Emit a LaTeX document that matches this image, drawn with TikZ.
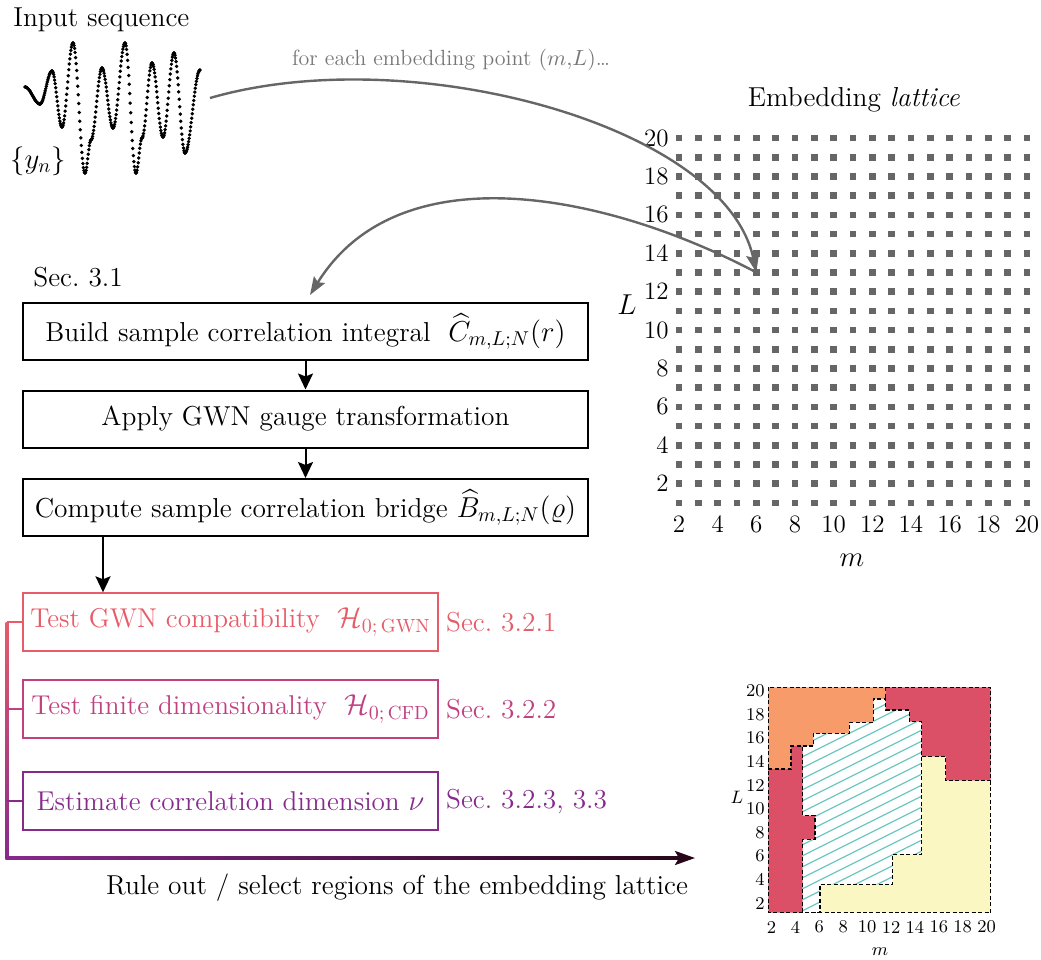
\documentclass[tikz,border=0pt]{standalone}
\usepackage{fontspec}
\usepackage{amsmath}
\usetikzlibrary{arrows.meta,calc}

\definecolor{seqgray}{RGB}{102,102,102}
\definecolor{notegray}{RGB}{118,118,118}
\definecolor{testA}{RGB}{230,92,104}
\definecolor{testB}{RGB}{192,64,128}
\definecolor{testC}{RGB}{134,42,140}
\definecolor{raildark}{RGB}{40,6,26}
\definecolor{regOrange}{RGB}{248,155,106}
\definecolor{regRed}{RGB}{219,80,103}
\definecolor{regYellow}{RGB}{250,247,194}
\definecolor{regHatch}{RGB}{108,200,192}

\tikzset{
  txt/.style={font=\fontsize{13.7}{16.4}\selectfont, inner sep=0pt},
  notetxt/.style={font=\fontsize{11}{13.2}\selectfont, text=notegray, inner sep=0pt},
  stepbox/.style={draw=black, line width=1pt, minimum width=282.5pt,
    minimum height=28.5pt, inner sep=0pt, font=\fontsize{13.7}{16.4}\selectfont},
  testbox/.style={draw=#1, text=#1, line width=0.7pt, minimum width=207.5pt,
    minimum height=29pt, inner sep=0pt, font=\fontsize{13.6}{16.3}\selectfont},
  flowarrow/.style={-{Stealth[length=8pt,width=7.5pt,inset=1.5pt]}, line width=1pt},
  feedback/.style={-{Stealth[length=9pt,width=6.5pt,inset=1.5pt]}, line width=1.2pt, draw=seqgray},
  latdot/.style={fill=seqgray},
  ticklab/.style={font=\fontsize{12.5}{15}\selectfont, inner sep=0pt},
  mini/.style={font=\fontsize{9}{10.8}\selectfont, inner sep=0pt},
  border/.style={line width=0.7pt, dash pattern=on 2pt off 1.2pt},
  sample/.style={fill=black},
}

\begin{document}
\begin{tikzpicture}[x=0.5pt,y=-0.5pt]
\useasboundingbox (0,0) rectangle (1041,960);

% ---------- input sequence ----------
\node[txt, anchor=west] (seqtitle) at (13,20) {Input sequence};
\node[txt] (seqlabel) at (38,161) {$\{y_n\}$};
% sampled signal: cosine pieces between successive extrema, uniform step in time
\foreach \x/\y [remember=\x as \px (initially 25), remember=\y as \py (initially 87)] in
  {40/104, 52/71, 62/127, 73/43, 85/173, 91/140, 102/68, 113/128, 125/43,
   136/173, 142/138, 152/63, 163/137, 174/53, 185/153, 200/70}
{
  \pgfmathtruncatemacro\ns{max(3,(\x-\px)/0.5)}
  \fill[sample] plot[only marks, mark=*, mark size=0.65pt, samples=\ns, domain=0:1, variable=\t]
    ({\px+\t*(\x-\px)},{\py+(\y-\py)*(1-cos(180*\t))/2});
}
\coordinate (seqend) at (210,98);

\node[notetxt] (note) at (451,60) {for each embedding point $(m{,}L)$\ldots};

% ---------- embedding lattice ----------
\node[txt] (lattitle) at (854,100) {Embedding \textit{lattice}};
\foreach \m in {2,...,20}
  \foreach \L in {1,...,20}
    \fill[latdot] ({679+(\m-2)*19.33-3.3},{138+(20-\L)*19.2-3.3}) rectangle ++(6.6,6.6);
\foreach \L in {2,4,...,20}
  \node[ticklab, anchor=east] (Ltick\L) at (669,{138+(20-\L)*19.2}) {\L};
\foreach \m in {2,4,...,20}
  \node[ticklab] (mtick\m) at ({679+(\m-2)*19.33},524) {\m};
\node[txt] (Llab) at (627,305) {$L$};
\node[txt] (mlab) at (852,560) {$m$};
\coordinate (probe) at ({679+4*19.33},{138+7*19.2});

% ---------- pipeline ----------
\node[txt, anchor=west] (sec31) at (33,277) {Sec.~3.1};
\node[stepbox] (build) at (305.5,331.5) {Build sample correlation integral~ $\widehat{C}_{m,L;N}(r)$};
\node[stepbox] (gauge) at (305.5,419) {Apply GWN gauge transformation};
\node[stepbox] (bridge) at (305.5,507.5) {Compute sample correlation bridge $\widehat{B}_{m,L;N}(\varrho)$};

\draw[flowarrow] (build) -- (gauge);
\draw[flowarrow] (gauge) -- (bridge);

\node[testbox=testA] (gwn) at (230.5,622) {Test GWN compatibility~ $\mathcal{H}_{0;\,\mathrm{GWN}}$};
\node[testbox=testB] (cfd) at (230.5,709) {Test finite dimensionality~ $\mathcal{H}_{0;\,\mathrm{CFD}}$};
\node[testbox=testC] (dim) at (230.5,801) {Estimate correlation dimension $\nu$};

\node[txt, text=testA, anchor=west] (secA) at ($(gwn.east)+(7,0)$) {Sec.~3.2.1};
\node[txt, text=testB, anchor=west] (secB) at ($(cfd.east)+(7,0)$) {Sec.~3.2.2};
\node[txt, text=testC, anchor=west] (secC) at ($(dim.east)+(7,0)$) {Sec.~3.2.3, 3.3};

\coordinate (split) at (103,0);
\draw[flowarrow] (bridge.south -| split) -- (gwn.north -| split);

% feedback arrows between sequence, lattice point and pipeline
\draw[feedback] (seqend) .. controls (410,40) and (725,125) .. (probe);
\draw[feedback] (probe) .. controls (610,195) and (400,150) .. ($(build.north)+(4.5,-7)$);

% ---------- rail collecting the test outcomes ----------
\coordinate (railtop) at (7,622);
\coordinate (railbot) at (7,858);
\coordinate (railtip) at (695,858);
\shade[top color=testA, bottom color=testC] ($(railtop)+(-1.4,0)$) rectangle ($(railbot)+(1.4,1.4)$);
\shade[left color=testC, right color=raildark] ($(railbot)+(-1.4,-1.4)$) rectangle ($(railtip)+(-16,1.4)$);
\draw[-{Stealth[length=10pt,width=7pt,inset=2pt]}, raildark, line width=1.4pt] ($(railtip)+(-18,0)$) -- (railtip);
\draw[testA, line width=1.4pt] (gwn.west -| railtop) -- (gwn.west);
\draw[testB, line width=1.4pt] (cfd.west -| railtop) -- (cfd.west);
\draw[testC, line width=1.4pt] (dim.west -| railtop) -- (dim.west);
\node[txt] (ruleout) at (397,888) {Rule out / select regions of the embedding lattice};

% ---------- regions of the lattice ----------
\fill[regOrange] (768.3,687.3) -- (885.7,687.3) -- (885.7,699) -- (873.3,699) -- (873.3,722.3)
  -- (849.3,722.3) -- (849.3,733.3) -- (813.3,733.3) -- (813.3,746) -- (791,746) -- (791,769)
  -- (768.3,769) -- cycle;
\fill[regRed] (885.7,687.3) -- (990.7,687.3) -- (990.7,780.7) -- (945.7,780.7) -- (945.7,756.7)
  -- (921.7,756.7) -- (921.7,721.7) -- (909.3,721.7) -- (909.3,710) -- (885.7,710) -- cycle;
\fill[regRed] (768.3,769) -- (791,769) -- (791,746) -- (802.7,746) -- (802.7,815.7) -- (815,815.7)
  -- (815,839.3) -- (802.7,839.3) -- (802.7,912.7) -- (768.3,912.7) -- cycle;
\fill[regYellow] (820,884.3) -- (892.7,884.3) -- (892.7,854.3) -- (921.7,854.3) -- (921.7,756.7)
  -- (945.7,756.7) -- (945.7,780.7) -- (990.7,780.7) -- (990.7,912.7) -- (820,912.7) -- cycle;
\begin{scope}
  \clip (802.7,746) -- (813.3,746) -- (813.3,733.3) -- (849.3,733.3) -- (849.3,722.3) -- (873.3,722.3)
    -- (873.3,699) -- (885.7,699) -- (885.7,710) -- (909.3,710) -- (909.3,721.7) -- (921.7,721.7)
    -- (921.7,854.3) -- (892.7,854.3) -- (892.7,884.3) -- (820,884.3) -- (820,912.7) -- (802.7,912.7)
    -- (802.7,839.3) -- (815,839.3) -- (815,815.7) -- (802.7,815.7) -- cycle;
  \foreach \k in {0,...,34}
    \draw[regHatch, line width=0.65pt] (760,{690+\k*11}) -- ++(240,-120);
\end{scope}
\draw[border] (802.7,746) -- (813.3,746) -- (813.3,733.3) -- (849.3,733.3) -- (849.3,722.3) -- (873.3,722.3)
    -- (873.3,699) -- (885.7,699) -- (885.7,710) -- (909.3,710) -- (909.3,721.7) -- (921.7,721.7)
    -- (921.7,854.3) -- (892.7,854.3) -- (892.7,884.3) -- (820,884.3) -- (820,912.7) -- (802.7,912.7)
    -- (802.7,839.3) -- (815,839.3) -- (815,815.7) -- (802.7,815.7) -- cycle;
\draw[border] (768.3,687.3) rectangle (990.7,912.7);
\draw[border] (768.3,769) -- (791,769) -- (791,746) -- (802.7,746);
\draw[border] (885.7,687.3) -- (885.7,699);
\draw[border] (921.7,756.7) -- (945.7,756.7) -- (945.7,780.7) -- (990.7,780.7);

\foreach \m in {2,4,...,20}
  \node[mini] (minim\m) at ({771.5+(\m-2)*11.95},927) {\m};
\foreach \L in {2,4,...,20}
  \node[mini, anchor=east] (miniL\L) at (765,{690.7+(20-\L)*11.8}) {\L};
\node[mini] (miniLlab) at (737,797) {$L$};
\node[mini] (minimlab) at (880,952) {$m$};
\end{tikzpicture}
\end{document}
